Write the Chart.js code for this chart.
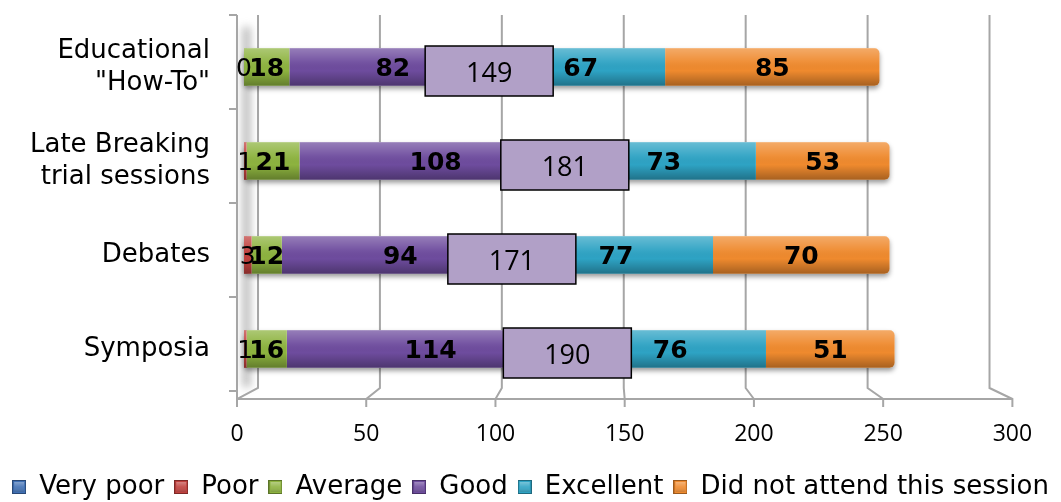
<!DOCTYPE html>
<html>
<head>
<meta charset="utf-8">
<script src="https://cdn.jsdelivr.net/npm/chart.js@4/dist/chart.umd.min.js"></script>
<style>
  html, body { margin: 0; padding: 0; background: #fff; }
  #wrap { width: 1061px; height: 502px; }
</style>
</head>
<body>
<div id="wrap"><canvas id="sessionChart"></canvas></div>
<script>
// Data
const categories = [["Educational", "\"How-To\""], ["Late Breaking", "trial sessions"], "Debates", "Symposia"];
const seriesNames = ["Very poor", "Poor", "Average", "Good", "Excellent", "Did not attend this session"];
const veryPoor = [0, null, null, null];
const poor = [null, 1, 3, 1];
const average = [18, 21, 12, 16];
const good = [82, 108, 94, 114];
const excellent = [67, 73, 77, 76];
const didNotAttend = [85, 53, 70, 51];
const xTicks = [0, 50, 100, 150, 200, 250, 300];

const seriesValues = [veryPoor, poor, average, good, excellent, didNotAttend];
const seriesColors = ["#3f6fb4", "#c0403d", "#8db33f", "#6e4c9e", "#2ea3c4", "#ef8a2e"];
const FONT = '"DejaVu Sans", Verdana, sans-serif';
const NUM_FONT = '"Open Sans", "Liberation Sans", sans-serif';

Chart.defaults.font.family = FONT;
Chart.defaults.color = "#000";

const num = (v) => (v == null ? 0 : v);
const totals = categories.map((_, i) => seriesValues.reduce((s, arr) => s + num(arr[i]), 0));
// value where "Good" ends, and the Good + Excellent callout
const goodEnd = categories.map((_, i) => num(veryPoor[i]) + num(poor[i]) + num(average[i]) + num(good[i]));
const goodPlusExcellent = categories.map((_, i) => good[i] + excellent[i]);

// small bevelled legend swatches
function swatch(color) {
  const c = document.createElement("canvas");
  c.width = 14; c.height = 14;
  const g = c.getContext("2d");
  g.fillStyle = color;
  g.fillRect(0, 0, 14, 14);
  const grad = g.createLinearGradient(0, 0, 0, 14);
  grad.addColorStop(0, "rgba(255,255,255,0.45)");
  grad.addColorStop(0.5, "rgba(255,255,255,0.1)");
  grad.addColorStop(1, "rgba(0,0,0,0.25)");
  g.fillStyle = grad;
  g.fillRect(2, 2, 10, 10);
  g.strokeStyle = "rgba(0,0,0,0.35)";
  g.lineWidth = 1;
  g.strokeRect(0.5, 0.5, 13, 13);
  return c;
}
const swatches = seriesColors.map(swatch);

// 3D-ish walls, gridlines, axis ticks and bar shadows
const wall3d = {
  id: "wall3d",
  beforeDatasetsDraw(chart) {
    const { ctx, chartArea: area, scales: { x, y } } = chart;
    const p0 = x.getPixelForValue(0);
    const front = (p) => p0 + (p - p0) * 1.025 - 7;
    const back = (p) => p0 + (p - p0) * 0.967 + 14;
    const topY = area.top - 5, backY = area.bottom - 8, frontY = area.bottom + 3;

    ctx.save();
    // soft shadow on the left wall
    ctx.filter = "blur(4px)";
    ctx.fillStyle = "rgba(100,100,100,0.5)";
    ctx.fillRect(front(p0) + 6, topY + 12, 7, frontY - topY - 24);
    ctx.filter = "none";

    ctx.strokeStyle = "#a6a6a6";
    ctx.lineWidth = 2;
    xTicks.forEach((v) => {
      const p = x.getPixelForValue(v);
      ctx.beginPath();
      ctx.moveTo(back(p), topY);
      ctx.lineTo(back(p), backY);
      ctx.lineTo(front(p), frontY);
      ctx.lineTo(front(p), frontY + 8);
      ctx.stroke();
    });

    // front axis lines
    ctx.beginPath();
    ctx.moveTo(front(p0), topY);
    ctx.lineTo(front(p0), frontY);
    ctx.lineTo(front(x.getPixelForValue(xTicks[xTicks.length - 1])), frontY);
    ctx.stroke();

    // category tick marks on the left
    const step = (area.bottom - area.top) / categories.length;
    for (let i = 0; i <= categories.length; i++) {
      const yy = Math.min(area.top - 5 + i * step, frontY);
      ctx.beginPath();
      ctx.moveTo(front(p0) - 8, yy);
      ctx.lineTo(front(p0), yy);
      ctx.stroke();
    }

    // value axis labels on the front edge
    ctx.fillStyle = "#000";
    ctx.font = "23px " + NUM_FONT;
    ctx.textAlign = "center";
    ctx.textBaseline = "middle";
    xTicks.forEach((v) => ctx.fillText(String(v), front(x.getPixelForValue(v)), frontY + 35));

    // drop shadow under each whole stacked bar
    const lastMeta = chart.getDatasetMeta(seriesValues.length - 1);
    ctx.shadowColor = "rgba(0,0,0,0.4)";
    ctx.shadowBlur = 5;
    ctx.shadowOffsetY = 3;
    ctx.fillStyle = "#fff";
    categories.forEach((_, i) => {
      const h = lastMeta.data[i].height;
      const cy = y.getPixelForValue(i);
      ctx.beginPath();
      ctx.roundRect(p0, cy - h / 2, x.getPixelForValue(totals[i]) - p0, h, 5);
      ctx.fill();
    });
    ctx.restore();
  },

  afterDatasetsDraw(chart) {
    const { ctx, scales: { x } } = chart;
    ctx.save();

    // cylinder-like shading on every segment
    seriesValues.forEach((arr, d) => {
      chart.getDatasetMeta(d).data.forEach((el, i) => {
        if (arr[i] == null) return;
        const left = Math.min(el.x, el.base), w = Math.abs(el.x - el.base);
        const top = el.y - el.height / 2;
        const g = ctx.createLinearGradient(0, top, 0, top + el.height);
        g.addColorStop(0, "rgba(255,255,255,0.28)");
        g.addColorStop(0.35, "rgba(255,255,255,0.06)");
        g.addColorStop(0.6, "rgba(0,0,0,0)");
        g.addColorStop(1, "rgba(0,0,0,0.3)");
        ctx.fillStyle = g;
        ctx.beginPath();
        ctx.roundRect(left, top, w, el.height, d === seriesValues.length - 1 ? [0, 5, 5, 0] : 0);
        ctx.fill();
      });
    });

    // Good + Excellent callout boxes
    const goodMeta = chart.getDatasetMeta(3);
    ctx.textAlign = "center";
    ctx.textBaseline = "middle";
    categories.forEach((_, i) => {
      const cx = x.getPixelForValue(goodEnd[i]) - 7;
      const cy = goodMeta.data[i].y + 4;
      ctx.fillStyle = "#b1a0c7";
      ctx.strokeStyle = "#000";
      ctx.lineWidth = 1.5;
      ctx.fillRect(cx - 64, cy - 25, 128, 50);
      ctx.strokeRect(cx - 64, cy - 25, 128, 50);
      ctx.fillStyle = "#000";
      ctx.font = "27px " + NUM_FONT;
      ctx.fillText(String(goodPlusExcellent[i]), cx, cy + 3);
    });

    // segment value labels (tiny series in normal weight)
    ctx.fillStyle = "#000";
    seriesValues.forEach((arr, d) => {
      ctx.font = (d < 2 ? "" : "bold ") + "25px " + FONT;
      chart.getDatasetMeta(d).data.forEach((el, i) => {
        if (arr[i] == null) return;
        ctx.fillText(String(arr[i]), (el.x + el.base) / 2, el.y + 2);
      });
    });
    ctx.restore();
  },
};

new Chart(document.getElementById("sessionChart"), {
  type: "bar",
  data: {
    labels: categories,
    datasets: seriesNames.map((name, d) => ({
      label: name,
      data: seriesValues[d],
      backgroundColor: seriesColors[d],
      borderWidth: 0,
      borderRadius: d === seriesNames.length - 1 ? 5 : 0,
      barPercentage: 0.4,
      categoryPercentage: 1,
    })),
  },
  options: {
    indexAxis: "y",
    responsive: true,
    maintainAspectRatio: false,
    animation: false,
    layout: { padding: { top: 20, left: 0, right: 0, bottom: -8 } },
    scales: {
      x: {
        stacked: true,
        min: 0,
        max: 324,
        ticks: { display: false },
        grid: { display: false },
        border: { display: false },
        afterFit: (s) => { s.height = 68; s.paddingLeft = 0; s.paddingRight = 0; },
      },
      y: {
        stacked: true,
        grid: { display: false, drawTicks: false },
        border: { display: false },
        ticks: { font: { size: 26, lineHeight: 1.25 }, color: "#000", padding: 34 },
        afterFit: (s) => { s.width = 244; s.paddingTop = 0; s.paddingBottom = 0; },
      },
    },
    plugins: {
      legend: {
        position: "bottom",
        labels: {
          boxWidth: 14,
          boxHeight: 14,
          usePointStyle: true,
          font: { size: 26 },
          color: "#000",
          padding: 10,
          generateLabels: (chart) =>
            Chart.defaults.plugins.legend.labels.generateLabels(chart).map((item, d) => ({
              ...item,
              pointStyle: swatches[d],
            })),
        },
      },
      tooltip: { enabled: false },
    },
  },
  plugins: [wall3d],
});
</script>
</body>
</html>
